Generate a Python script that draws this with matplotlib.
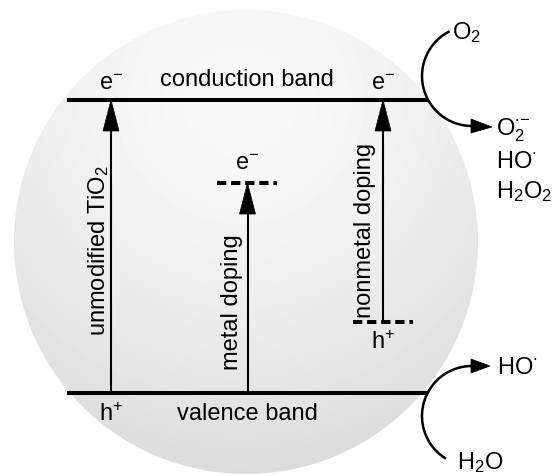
import numpy as np
import matplotlib
matplotlib.use("Agg")
import matplotlib.pyplot as plt
from matplotlib.patches import Circle, Polygon

plt.rcParams['font.family'] = ['Liberation Sans', 'DejaVu Sans']
plt.rcParams['mathtext.fontset'] = 'custom'
plt.rcParams['mathtext.rm'] = 'Liberation Sans'
plt.rcParams['mathtext.it'] = 'Liberation Sans'
plt.rcParams['mathtext.bf'] = 'Liberation Sans:bold'

# ---- diagram data (diagram units: x across, energy level downwards) ----
band_labels = ["conduction band", "valence band"]
band_levels = [101, 394]
band_carriers = ["e$^{-}$", "h$^{+}$"]

transition_labels = ["unmodified TiO$_2$", "metal doping", "nonmetal doping"]
transition_x = [111, 247.5, 383]
transition_from = [394, 394, 323]
transition_to = [101, 184, 101]
label_x = [98.5, 232, 364.5]
label_y = [251, 302, 230]

dopant_levels = [184, 323]
dopant_x = [247.5, 383]
dopant_carriers = ["e$^{-}$", "h$^{+}$"]

cb_reactant = "O$_2$"
cb_products = ["O$_2^{\\bullet\\!-}$", "HO$^{\\bullet}$", "H$_2$O$_2$"]
vb_reactant = "H$_2$O"
vb_products = ["HO$^{\\bullet}$"]

W, H = 552, 477
fig = plt.figure(figsize=(W / 100, H / 100), dpi=100)
ax = fig.add_axes([0, 0, 1, 1])
ax.set_xlim(0, W)
ax.set_ylim(H, 0)
ax.axis('off')

# ---- shaded sphere ----
cx, cy, r = 246, 243, 232
yy, xx = np.mgrid[0:H, 0:W] + 0.5
d = np.hypot(xx - 240, yy - 100)
val = 0.98 - 0.115 * np.clip(d / 365, 0, 1.2) ** 1.5
im = ax.imshow(val, cmap='gray', vmin=0, vmax=1, extent=(0, W, H, 0),
               interpolation='bilinear', zorder=0)
circ = Circle((cx, cy), r, transform=ax.transData, facecolor='none', edgecolor='none')
ax.add_patch(circ)
im.set_clip_path(circ)

fs = 17
band_x0, band_x1 = 67, 428
lw_band = 2.9

# bands
for lvl in band_levels:
    ax.plot([band_x0, band_x1], [lvl, lvl], color='black', lw=lw_band,
            solid_capstyle='butt', zorder=3)
ax.text(246.5, band_levels[0] - 21, band_labels[0], fontsize=fs, ha='center', va='center')
ax.text(247.5, band_levels[1] + 20, band_labels[1], fontsize=fs, ha='center', va='center')
ax.text(transition_x[0], band_levels[0] - 17, band_carriers[0], fontsize=fs, ha='center', va='center')
ax.text(transition_x[2], band_levels[0] - 17, band_carriers[0], fontsize=fs, ha='center', va='center')
ax.text(transition_x[0], band_levels[1] + 21, band_carriers[1], fontsize=fs, ha='center', va='center')

# dopant levels (dashed)
for lvl, x in zip(dopant_levels, dopant_x):
    ax.plot([x - 30.5, x + 29.5], [lvl, lvl], color='black', lw=2.9,
            dashes=(2.3, 1.2), solid_capstyle='butt', dash_capstyle='butt', zorder=3)
ax.text(dopant_x[0], dopant_levels[0] - 20, dopant_carriers[0], fontsize=fs, ha='center', va='center')
ax.text(dopant_x[1], dopant_levels[1] + 20, dopant_carriers[1], fontsize=fs, ha='center', va='center')

# transitions
head_len, head_w = 31, 8
for x, y0, y1, lab, lx, ly in zip(transition_x, transition_from, transition_to,
                                  transition_labels, label_x, label_y):
    ax.plot([x, x], [y0, y1 + head_len - 1], color='black', lw=1.5, zorder=4)
    ax.add_patch(Polygon([[x, y1], [x - head_w, y1 + head_len], [x + head_w, y1 + head_len]],
                         closed=True, facecolor='black', edgecolor='black', lw=0.5, zorder=4))
    ax.text(lx, ly, lab, fontsize=fs, rotation=90, ha='center', va='center')

# redox arcs
ar = 50
def arc(center, a0, a1, tip_x, tip_y):
    t = np.radians(np.linspace(a0, a1, 200))
    ax.plot(center[0] + ar * np.cos(t), center[1] + ar * np.sin(t), color='black', lw=1.8,
            zorder=4, solid_capstyle='butt')
    ex, ey = center[0] + ar * np.cos(np.radians(a1)), center[1] + ar * np.sin(np.radians(a1))
    ax.add_patch(Polygon([[tip_x, tip_y], [ex - 1, ey - 7], [ex - 1, ey + 7]], closed=True,
                         facecolor='black', edgecolor='black', lw=0.5, zorder=4))

arc((472, 77), 243.4, 90, 492, 128)
arc((472, 417), 121.4, 270, 490, 367)

ax.text(452, 33, cb_reactant, fontsize=fs, ha='left', va='center')
for txt, y in zip(cb_products, [130, 162, 192]):
    ax.text(496, y, txt, fontsize=fs, ha='left', va='center')
ax.text(457, 463, vb_reactant, fontsize=fs, ha='left', va='center')
ax.text(497, 368, vb_products[0], fontsize=fs, ha='left', va='center')

fig.savefig("out.png", dpi=100)
